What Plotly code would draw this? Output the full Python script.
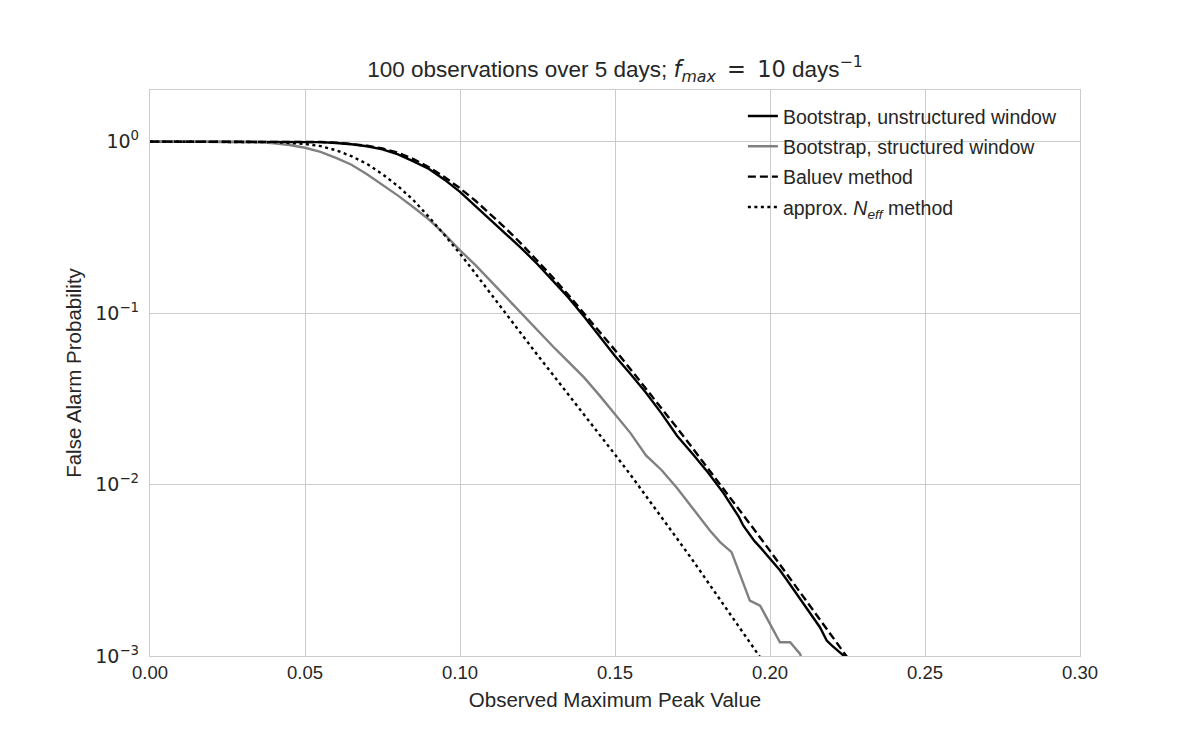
import plotly.graph_objects as go

# ---- data (x = observed max peak, y = false alarm probability as log10) ----
x_unstruct = [0.0, 0.02, 0.04, 0.05, 0.055, 0.06, 0.065, 0.07, 0.075, 0.08, 0.085, 0.09, 0.095,
              0.10, 0.105, 0.11, 0.115, 0.12, 0.125, 0.13, 0.135, 0.14, 0.145, 0.15, 0.155,
              0.16, 0.165, 0.17, 0.175, 0.18, 0.185, 0.19, 0.1914, 0.195, 0.1968, 0.20,
              0.2032, 0.205, 0.2086, 0.21, 0.214, 0.2161, 0.2183, 0.22, 0.2237, 0.226]
logp_unstruct = [0.0, 0.0, 0.0, -0.001, -0.003, -0.008, -0.015, -0.027, -0.045, -0.075, -0.115,
                 -0.160, -0.222, -0.293, -0.375, -0.460, -0.540, -0.625, -0.715, -0.81, -0.91,
                 -1.02, -1.135, -1.25, -1.355, -1.465, -1.585, -1.715, -1.82, -1.93, -2.05,
                 -2.19, -2.24, -2.33, -2.365, -2.43, -2.50, -2.545, -2.637, -2.67, -2.774,
                 -2.832, -2.91, -2.94, -2.997, -3.05]

x_struct = [0.0, 0.02, 0.03, 0.035, 0.04, 0.045, 0.05, 0.055, 0.06, 0.065, 0.07, 0.075, 0.08,
            0.085, 0.09, 0.095, 0.10, 0.105, 0.11, 0.115, 0.12, 0.125, 0.13, 0.135, 0.14, 0.145,
            0.15, 0.155, 0.16, 0.165, 0.17, 0.1774, 0.1806, 0.1839, 0.1876, 0.1935, 0.1968,
            0.2032, 0.2065, 0.2097, 0.211]
logp_struct = [0.0, 0.0, 0.0, -0.003, -0.010, -0.020, -0.036, -0.060, -0.095, -0.135, -0.19,
               -0.25, -0.315, -0.383, -0.455, -0.54, -0.634, -0.72, -0.815, -0.915, -1.01,
               -1.10, -1.195, -1.285, -1.375, -1.48, -1.59, -1.70, -1.83, -1.915, -2.02, -2.19,
               -2.268, -2.336, -2.394, -2.677, -2.706, -2.92, -2.92, -2.988, -3.06]

x_baluev = [0.0, 0.05, 0.055, 0.06, 0.065, 0.07, 0.075, 0.08, 0.085, 0.09, 0.095, 0.10, 0.105,
            0.11, 0.115, 0.12, 0.125, 0.13, 0.135, 0.14, 0.145, 0.15, 0.155, 0.16, 0.165, 0.17,
            0.175, 0.18, 0.185, 0.19, 0.195, 0.20, 0.205, 0.21, 0.215, 0.22, 0.225, 0.23]
logp_baluev = [0.0, 0.0, -0.002, -0.006, -0.013, -0.024, -0.040, -0.065, -0.102, -0.150, -0.207,
               -0.272, -0.345, -0.425, -0.510, -0.600, -0.695, -0.793, -0.895, -1.000, -1.107,
               -1.216, -1.327, -1.440, -1.554, -1.670, -1.787, -1.905, -2.024, -2.144, -2.265,
               -2.387, -2.510, -2.634, -2.758, -2.883, -3.009, -3.14]

x_neff = [0.0, 0.03, 0.035, 0.04, 0.045, 0.05, 0.055, 0.06, 0.065, 0.07, 0.075, 0.08, 0.085,
          0.09, 0.095, 0.10, 0.105, 0.11, 0.115, 0.12, 0.125, 0.13, 0.135, 0.14, 0.145, 0.15,
          0.155, 0.16, 0.165, 0.17, 0.175, 0.18, 0.185, 0.19, 0.195, 0.20]
logp_neff = [0.0, 0.0, -0.001, -0.003, -0.008, -0.014, -0.026, -0.050, -0.085, -0.130, -0.190,
             -0.260, -0.342, -0.440, -0.545, -0.653, -0.77, -0.89, -1.012, -1.128, -1.245,
             -1.36, -1.475, -1.59, -1.705, -1.825, -1.943, -2.065, -2.19, -2.315, -2.44, -2.57,
             -2.70, -2.83, -2.963, -3.09]

series_names = ["Bootstrap, unstructured window", "Bootstrap, structured window",
                "Baluev method", "approx. <i>N<sub>eff</sub></i> method"]

y_tickvals = [1.0, 0.1, 0.01, 0.001]
y_ticktext = ["10<sup>0</sup>", "10<sup>\u22121</sup>", "10<sup>\u22122</sup>", "10<sup>\u22123</sup>"]
x_tickvals = [0.0, 0.05, 0.10, 0.15, 0.20, 0.25, 0.30]


def to_p(vals):
    return [10 ** v for v in vals]


FONT = "Liberation Sans, Arial, Helvetica, sans-serif"
MATH = "DejaVu Sans"
TXT = "#262626"

title_text = ("100 observations over 5 days; "
              "<span style='font-family:DejaVu Sans'><i>f</i><sub><i>max</i></sub>\u2002=\u200210</span>"
              " days<span style='font-family:DejaVu Sans'><sup>\u22121</sup></span>")

fig = go.Figure()
fig.add_trace(go.Scatter(x=x_unstruct, y=to_p(logp_unstruct), mode="lines", name=series_names[0],
                         line=dict(color="black", width=2.4), legendgroup="a"))
fig.add_trace(go.Scatter(x=x_struct, y=to_p(logp_struct), mode="lines", name=series_names[1],
                         line=dict(color="#808080", width=2.4), legendgroup="b"))
fig.add_trace(go.Scatter(x=x_baluev, y=to_p(logp_baluev), mode="lines", name=series_names[2],
                         line=dict(color="black", width=2.4, dash="8px,4px"), legendgroup="c"))
fig.add_trace(go.Scatter(x=x_neff, y=to_p(logp_neff), mode="lines", name=series_names[3],
                         line=dict(color="black", width=2.4, dash="3px,3.5px"), legendgroup="d"))

fig.update_layout(
    width=1200, height=750,
    margin=dict(l=150, r=120, t=90, b=94),
    paper_bgcolor="white", plot_bgcolor="white",
    font=dict(family=FONT, color=TXT, size=18),
    title=dict(text=title_text,
               x=615 / 1200, xanchor="center", y=1 - 69 / 750, yanchor="middle",
               font=dict(size=22.5, color=TXT)),
    showlegend=True,
    legend=dict(x=0.6375, y=0.988, xanchor="left", yanchor="top", bgcolor="rgba(0,0,0,0)",
                font=dict(size=19.5, color=TXT), tracegroupgap=2, itemwidth=30),
    xaxis=dict(range=[0, 0.30], tickvals=x_tickvals, tickformat=".2f", showgrid=True,
               gridcolor="#cccccc", gridwidth=1.3, zeroline=False, showline=True, mirror=True,
               linecolor="#cccccc", linewidth=1.3, ticks="", tickfont=dict(size=18.5),
               title=dict(text="Observed Maximum Peak Value", font=dict(size=20.5), standoff=10)),
    yaxis=dict(type="log", range=[-3, 0.30103], tickvals=y_tickvals, ticktext=y_ticktext,
               showgrid=True, gridcolor="#cccccc", gridwidth=1.3, zeroline=False, showline=True,
               mirror=True, linecolor="#cccccc", linewidth=1.3, ticks="",
               tickfont=dict(size=19, family=MATH), ticklabelstandoff=6,
               title=dict(text="False Alarm Probability", font=dict(size=20.5), standoff=8)),
)

fig.write_html("out.html")
